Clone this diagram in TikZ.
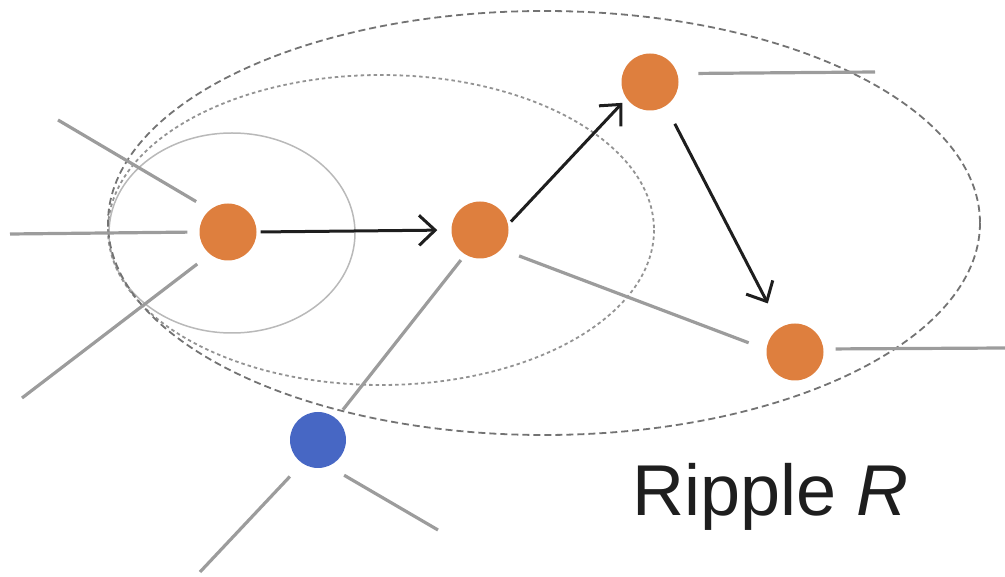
\documentclass[tikz,border=0pt]{standalone}
\usepackage{fontspec}
\setmainfont{Liberation Sans}
\usetikzlibrary{arrows.meta}
\definecolor{nodeorange}{HTML}{DE7F3E}
\definecolor{nodeblue}{HTML}{4767C4}
\definecolor{linegray}{HTML}{9C9C9C}
\definecolor{arrowdark}{HTML}{1E1E1E}
\begin{document}
\begin{tikzpicture}[x=1pt,y=-1pt,
  vert/.style={circle,inner sep=0pt,minimum size=57pt,fill=nodeorange,draw=none},
  seed/.style={circle,inner sep=0pt,minimum size=56pt,fill=nodeblue,draw=none},
  edge/.style={draw=linegray,line width=3.2pt},
  hop/.style={draw=arrowdark,line width=3pt,-{Straight Barb[length=16pt,width=30pt,line width=3pt]}},
  ring1/.style={draw=gray!55,line width=1.5pt},
  ring2/.style={draw=gray!85,line width=1.8pt,dash pattern=on 3.5pt off 3pt},
  ring3/.style={draw=gray!90!black,line width=1.8pt,dash pattern=on 7pt off 4pt}]
\useasboundingbox (0,0) rectangle (1005,577);

% nested ripple regions
\draw[ring1] (232,233) ellipse [x radius=123, y radius=100];
\draw[ring2] (381,230) ellipse [x radius=273, y radius=155];
\draw[ring3] (544,223) ellipse [x radius=436, y radius=212];

% vertices
\node[vert] (A) at (228,232) {};
\node[vert] (B) at (480,230) {};
\node[vert] (C) at (650,82) {};
\node[vert] (D) at (795,352) {};
\node[seed] (E) at (318,440) {};

% loose ends of edges leaving the picture
\coordinate (a1) at (58,120);
\coordinate (a2) at (10,234);
\coordinate (a3) at (22,398);
\coordinate (c1) at (875,72);
\coordinate (d1) at (1005,348);
\coordinate (e1) at (200,572);
\coordinate (e2) at (438,530);

% plain edges
\draw[edge,shorten >=16pt] (a1) -- (A.129);
\draw[edge,shorten >=12pt] (a2) -- (A.180);
\draw[edge,shorten >=16pt] (a3) -- (A.231);
\draw[edge,shorten <=19pt,shorten >=19pt] (B.-42) -- (D.175);
\draw[edge,shorten <=7pt,shorten >=11pt] (B.239) -- (E.50);
\draw[edge,shorten <=21pt] (C.17) -- (c1);
\draw[edge,shorten <=12pt] (D.6) -- (d1);
\draw[edge,shorten <=18pt] (E.236) -- (e1);
\draw[edge,shorten <=18pt] (E.-68) -- (e2);

% propagation steps
\draw[hop,shorten <=4pt,shorten >=14pt] (A.0) -- (B.180);
\draw[hop,shorten <=4pt,shorten >=6pt] (B.11) -- (C.215);
\draw[hop,shorten <=20pt,shorten >=27pt] (C.-57) -- (D.121);

% label
\node[anchor=base west,inner sep=0pt,text=arrowdark,font=\fontsize{72}{80}\selectfont] (lbl) at (632,515) {Ripple \textit{R}};
\end{tikzpicture}
\end{document}
